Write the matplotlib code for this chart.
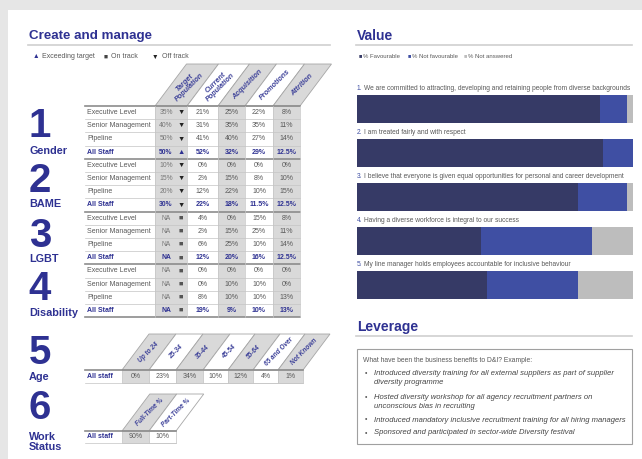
import matplotlib.pyplot as plt
from matplotlib.patches import Rectangle, Polygon
from matplotlib.transforms import offset_copy

plt.rcParams['font.family'] = ['Liberation Sans', 'DejaVu Sans']

# ---- data ----
groups = ['Gender', 'BAME', 'LGBT', 'Disability']
row_labels = ['Executive Level', 'Senior Management', 'Pipeline', 'All Staff']
col_headers = ['Target\nPopulation', 'Current\nPopulation', 'Acquisition', 'Promotions', 'Attrition']

target = [['35%', '40%', '50%', '50%'],
          ['10%', '15%', '20%', '30%'],
          ['NA', 'NA', 'NA', 'NA'],
          ['NA', 'NA', 'NA', 'NA']]
status = [['off', 'off', 'off', 'up'],
          ['off', 'off', 'off', 'off'],
          ['on', 'on', 'on', 'on'],
          ['on', 'on', 'on', 'on']]
current = [['21%', '31%', '41%', '52%'],
           ['0%', '2%', '12%', '22%'],
           ['4%', '2%', '6%', '12%'],
           ['0%', '0%', '8%', '19%']]
acquisition = [['25%', '35%', '40%', '32%'],
               ['0%', '15%', '22%', '18%'],
               ['0%', '15%', '25%', '20%'],
               ['0%', '10%', '10%', '9%']]
promotions = [['22%', '35%', '27%', '29%'],
              ['0%', '8%', '10%', '11.5%'],
              ['15%', '25%', '10%', '16%'],
              ['0%', '10%', '10%', '10%']]
attrition = [['8%', '11%', '14%', '12.5%'],
             ['0%', '10%', '15%', '12.5%'],
             ['8%', '11%', '14%', '12.5%'],
             ['0%', '0%', '13%', '13%']]

age_bands = ['Up to 24', '25-34', '35-44', '45-54', '55-64', '65 and Over', 'Not Known']
age_values = ['0%', '23%', '34%', '10%', '12%', '4%', '1%']
work_types = ['Full-Time %', 'Part-Time %']
work_values = ['90%', '10%']

questions = ['We are committed to attracting, developing and retaining people from diverse backgrounds',
             'I am treated fairly and with respect',
             'I believe that everyone is given equal opportunities for personal and career development',
             'Having a diverse workforce is integral to our success',
             'My line manager holds employees accountable for inclusive behaviour']
favourable = [88, 89, 80, 45, 47]
not_favourable = [10, 11, 18, 40, 33]
not_answered = [2, 0, 2, 15, 20]

leverage_intro = 'What have been the business benefits to D&I? Example:'
leverage_items = ['Introduced diversity training for all external suppliers as part of supplier\ndiversity programme',
                  'Hosted diversity workshop for all agency recruitment partners on\nunconscious bias in recruiting',
                  'Introduced mandatory inclusive recruitment training for all hiring managers',
                  'Sponsored and participated in sector-wide Diversity festival']

# ---- style ----
NAVY = '#2e3192'
HEAD = '#3d4199'
GREYTXT = '#595959'
SHADE = '#d9d9d9'
LINE = '#c4c4c4'
DARKLINE = '#8c8c8c'
FAV = '#363a66'
NOTFAV = '#3f4fa3'
NOANS = '#bdbdbd'

fig = plt.figure(figsize=(6.42, 4.59), dpi=100)
ax = fig.add_axes([0, 0, 1, 1])
ax.set_xlim(0, 642)
ax.set_ylim(459, 0)
ax.axis('off')

# page frame
ax.add_patch(Rectangle((0, 0), 642, 10, color='#e6e6e6', lw=0))
ax.add_patch(Rectangle((0, 0), 8, 459, color='#e6e6e6', lw=0))


def section_title(x, y, text, x_end, fs=10):
    ax.text(x, y, text, fontsize=fs, fontweight='bold', color=NAVY, va='center', ha='left')
    ax.plot([x - 1, x_end], [y + 9, y + 9], color='#cfcfcf', lw=1.2)


def big_label(num, name, y_num, y_name):
    # big section number with its name underneath (baselines given)
    ax.text(40, y_num, num, fontsize=29, fontweight='bold', color=NAVY,
            ha='center', va='baseline')
    ax.text(29, y_name, name, fontsize=7.8, fontweight='bold', color=NAVY,
            ha='left', va='baseline', linespacing=0.95)


def slanted_headers(edges, y_bot, y_top, labels, fs=5):
    dx = 0.75 * (y_bot - y_top)
    for k, lab in enumerate(labels):
        x0, x1 = edges[k], edges[k + 1]
        fc = SHADE if k % 2 == 0 else 'white'
        ax.add_patch(Polygon([(x0, y_bot), (x1, y_bot), (x1 + dx, y_top), (x0 + dx, y_top)],
                             closed=True, fc=fc, ec='#a6a6a6', lw=0.6))
        ax.text((x0 + x1) / 2 + dx / 2, (y_bot + y_top) / 2, lab, rotation=45,
                ha='center', va='center', fontsize=fs, color=HEAD, fontweight='bold',
                style='italic', linespacing=1.0)


# ================= Create and manage =================
section_title(29, 36, 'Create and manage', 330, fs=9.6)

ax.text(33, 57, '▲', fontsize=4.8, color=NAVY, va='center')
ax.text(42, 57, 'Exceeding target', fontsize=5, color=GREYTXT, va='center')
ax.text(104, 57, '■', fontsize=4.8, color='#444444', va='center')
ax.text(111, 57, 'On track', fontsize=5, color=GREYTXT, va='center')
ax.text(152, 57, '▼', fontsize=4.8, color='#222222', va='center')
ax.text(162, 57, 'Off track', fontsize=5, color=GREYTXT, va='center')

edges = [85, 155, 187, 218, 245, 273, 300]
top = 106
rh = 13.2
n_rows = len(groups) * len(row_labels)

# shaded columns
for k in range(len(col_headers)):
    if k % 2 == 0:
        ax.add_patch(Rectangle((edges[k + 1], top), edges[k + 2] - edges[k + 1], n_rows * rh,
                               fc=SHADE, lw=0))
slanted_headers(edges[1:], top, 64, col_headers, fs=5.2)

marker = {'up': ('▲', NAVY), 'off': ('▼', '#222222'), 'on': ('■', '#555555')}
columns = [current, acquisition, promotions, attrition]
num_base = [137, 192, 247, 300]
name_base = [154, 207, 262, 316]
for g, grp in enumerate(groups):
    big_label(str(g + 1), grp, num_base[g], name_base[g])
    for r, lab in enumerate(row_labels):
        i = g * 4 + r
        yc = top + (i + 0.5) * rh
        last = r == len(row_labels) - 1
        col = NAVY if last else GREYTXT
        fw = 'bold' if last else 'normal'
        ax.text(87, yc, lab, fontsize=5, color=col, fontweight=fw, va='center')
        ax.text(166, yc, target[g][r], fontsize=4.9, color=col if last else '#777777',
                fontweight=fw, ha='center', va='center')
        sym, sc = marker[status[g][r]]
        ax.text(181, yc, sym, fontsize=5.3, color=sc, ha='center', va='center')
        for c, values in enumerate(columns):
            ax.text((edges[c + 2] + edges[c + 3]) / 2, yc, values[g][r], fontsize=5,
                    color=col, fontweight=fw, ha='center', va='center')
        yb = top + (i + 1) * rh
        ax.plot([edges[0], edges[-1]], [yb, yb], color=DARKLINE if last else LINE,
                lw=1.2 if last else 0.5)
ax.plot([edges[0], edges[-1]], [top, top], color=DARKLINE, lw=1.2)
for x in edges[1:]:
    ax.plot([x, x], [top, top + n_rows * rh], color=LINE, lw=0.5)

# ================= Age =================
big_label('5', 'Age', 364, 380)
age_edges = [85, 122, 149, 176, 203, 228, 253, 278, 303]
a_top, a_bot = 370, 383
slanted_headers(age_edges[1:], a_top, 334, age_bands, fs=4.7)
for k, v in enumerate(age_values):
    x0, x1 = age_edges[k + 1], age_edges[k + 2]
    ax.add_patch(Rectangle((x0, a_top), x1 - x0, a_bot - a_top,
                           fc=SHADE if k % 2 == 0 else 'white', ec=LINE, lw=0.5))
    ax.text((x0 + x1) / 2, (a_top + a_bot) / 2, v, fontsize=5, color=GREYTXT,
            ha='center', va='center')
ax.text(87, (a_top + a_bot) / 2, 'All staff', fontsize=5, color=NAVY, fontweight='bold', va='center')
ax.plot([age_edges[0], age_edges[-1]], [a_top, a_top], color=DARKLINE, lw=1.2)
ax.plot([age_edges[0], age_edges[-1]], [a_bot, a_bot], color=LINE, lw=0.5)

# ================= Work status =================
big_label('6', 'Work\nStatus', 419, 450)
w_edges = [85, 122, 149, 176]
w_top, w_bot = 431, 443
slanted_headers(w_edges[1:], w_top, 394, work_types, fs=4.7)
for k, v in enumerate(work_values):
    x0, x1 = w_edges[k + 1], w_edges[k + 2]
    ax.add_patch(Rectangle((x0, w_top), x1 - x0, w_bot - w_top,
                           fc=SHADE if k % 2 == 0 else 'white', ec=LINE, lw=0.5))
    ax.text((x0 + x1) / 2, (w_top + w_bot) / 2, v, fontsize=5, color=GREYTXT,
            ha='center', va='center')
ax.text(87, (w_top + w_bot) / 2, 'All staff', fontsize=5, color=NAVY, fontweight='bold', va='center')
ax.plot([w_edges[0], w_edges[-1]], [w_top, w_top], color=DARKLINE, lw=1.2)
ax.plot([w_edges[0], w_edges[-1]], [w_bot, w_bot], color=LINE, lw=0.5)

# ================= Value =================
section_title(357, 36, 'Value', 632)
leg = [('% Favourable', FAV, 359), ('% Not favourable', NOTFAV, 408), ('% Not answered', NOANS, 464)]
for lab, c, x in leg:
    ax.text(x, 56, '■', fontsize=4, color=c, va='center')
    ax.text(x + 4, 56, lab, fontsize=4.3, color=GREYTXT, va='center')

bx = fig.add_axes([357 / 642, (459 - 307) / 459, 276 / 642, 242 / 459])
ypos = list(range(len(questions)))
bx.barh(ypos, favourable, height=0.64, color=FAV)
bx.barh(ypos, not_favourable, left=favourable, height=0.64, color=NOTFAV)
left2 = [a + b for a, b in zip(favourable, not_favourable)]
bx.barh(ypos, not_answered, left=left2, height=0.64, color=NOANS)
bx.set_xlim(0, 100)
bx.set_ylim(4.5, -1.0)
bx.axis('off')
for i, q in enumerate(questions):
    bx.text(0, i - 0.46, f'{i + 1}.', fontsize=4.75, color=NOTFAV, va='center', ha='left')
    tr = offset_copy(bx.transData, fig=fig, x=5.4, y=0, units='points')
    bx.text(0, i - 0.46, q, fontsize=4.75, color=GREYTXT, va='center', ha='left', transform=tr)

# ================= Leverage =================
section_title(357, 327, 'Leverage', 632)
ax.add_patch(Rectangle((357, 349), 275, 95, fc='white', ec='#a0a0a0', lw=0.8))
ax.text(363, 360, leverage_intro, fontsize=4.9, color=GREYTXT, va='center')
item_y = [378, 402, 420, 433]
for y, item in zip(item_y, leverage_items):
    first_y = y - 4.8 if '\n' in item else y
    ax.text(365, first_y, '•', fontsize=5, color=GREYTXT, va='center')
    ax.text(374, y, item, fontsize=5.5, color='#444444', style='italic', va='center',
            linespacing=1.25)

fig.savefig('out.png', dpi=100)
